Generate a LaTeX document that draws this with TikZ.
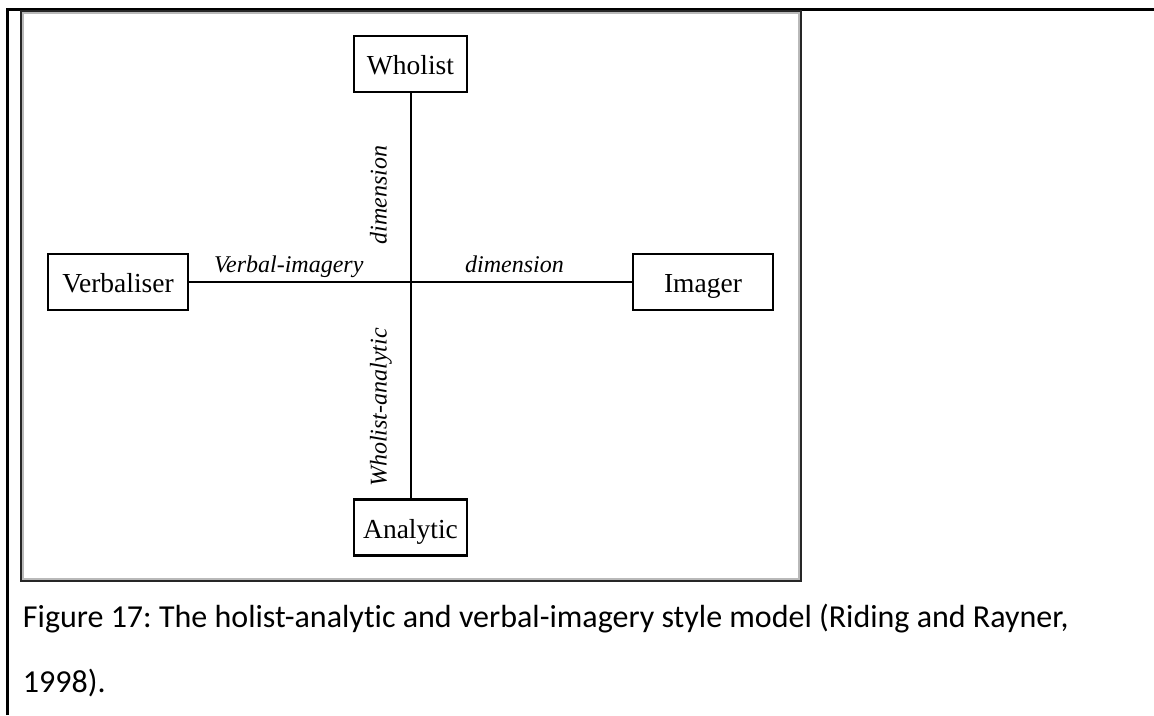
\documentclass[tikz,border=0pt]{standalone}
\usepackage{fontspec}
\setmainfont{Liberation Serif}
\newfontfamily\capfont[Ligatures=NoCommon]{Carlito}

\begin{document}
\begin{tikzpicture}[x=1pt, y=-1pt, line width=2pt,
  pole/.style={draw, line width=2.2pt, inner sep=0pt, minimum height=56pt,
    text height=24pt, text depth=3pt, font=\fontsize{27.5}{30}\selectfont},
  dimtext/.style={font=\fontsize{24}{26}\selectfont\itshape, inner sep=1pt,
    text height=17pt, text depth=6pt},
  captext/.style={font=\capfont\frenchspacing\fontsize{32}{36}\selectfont, inner sep=0pt, anchor=base west}]
  \useasboundingbox (0,0) rectangle (1154,715);

  % Marco de la tabla
  \draw[line width=3pt] (7.5,715) -- (7.5,9) -- (1154,9);

  % Marco de la figura
  \draw[black!85] (21,11) rectangle (801,581);
  \draw[gray!55, line width=1.5pt] (23.2,13.2) rectangle (798.8,578.8);

  % Polos
  \node[pole, minimum width=113pt] (wholist)    at (410.5,64)    {Wholist};
  \node[pole, minimum width=113pt] (analytic)   at (410.5,527.5) {Analytic};
  \node[pole, minimum width=140pt] (verbaliser) at (118,282)     {Verbaliser};
  \node[pole, minimum width=140pt] (imager)     at (703,282)     {Imager};
  \coordinate (cross) at (410.5,282);

  % Dimension verbal-imagery
  \draw (verbaliser) -- (cross)
    node[dimtext, pos=0.45, above=2pt] {Verbal-imagery};
  \draw (cross) -- (imager)
    node[dimtext, pos=0.47, above=2pt] {dimension};

  % Dimension wholist-analytic
  \draw (cross) -- (wholist)
    node[dimtext, pos=0.46, sloped, above=16pt] {dimension};
  \draw (analytic) -- (cross)
    node[dimtext, pos=0.42, sloped, above=16pt] {Wholist-analytic};

  % Pie de figura
  \node[captext] (caption) at (22,627)
    {Figure 17: The holist-analytic and verbal-imagery style model (Riding and Rayner,};
  \node[captext] (captail) at (22,692) {1998).};
\end{tikzpicture}
\end{document}
